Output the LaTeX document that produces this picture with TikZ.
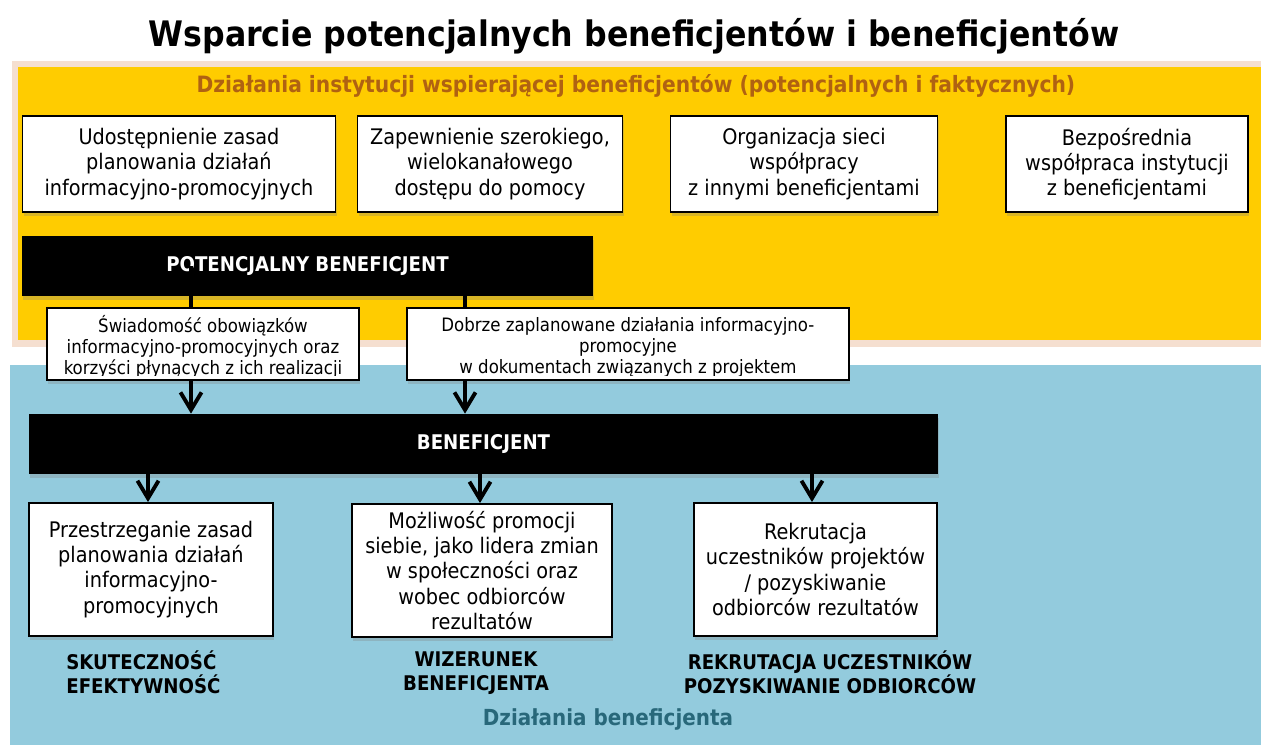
\documentclass[tikz,border=0pt]{standalone}
\usepackage{fontspec}
\IfFontExistsTF{DejaVu Sans Condensed Bold}
  {\setmainfont{DejaVu Sans Condensed}[BoldFont={DejaVu Sans Condensed Bold}]}
  {\setmainfont{DejaVu Sans}[FakeStretch=0.9]}
\usetikzlibrary{arrows.meta,shadows,positioning}
\definecolor{gold}{RGB}{255,204,0}
\definecolor{peach}{RGB}{232,184,150}
\definecolor{sky}{RGB}{147,203,221}
\definecolor{rust}{RGB}{176,98,18}
\definecolor{deepteal}{RGB}{40,104,122}
\newcommand{\pxl}[1]{#1*0.02cm}
\begin{document}
\begin{tikzpicture}
  [x=0.02cm,y=-0.02cm,every node/.style={inner sep=0pt,align=center}]
  \tikzstyle{shade} = [drop shadow={shadow xshift=0.6pt,shadow yshift=-2.4pt,opacity=0.3}]
  \tikzstyle{box} = [draw=black,line width=1.1pt,fill=white,shade,font=\fontsize{12.2}{14.3}\selectfont]
  \tikzstyle{bar} = [fill=black,text=white,shade,minimum height=\pxl{60},font=\fontsize{11.5}{14}\selectfont\bfseries]
  \tikzstyle{stxt} = [font=\fontsize{10.5}{12}\selectfont]
  \tikzstyle{tag} = [font=\fontsize{11.5}{13.6}\selectfont\bfseries]
  \tikzstyle{link} = [line width=2.2pt]
  \tikzstyle{arr} = [line width=2.2pt,-{Straight Barb[length=10pt,width=12pt]}]
  \useasboundingbox (0,0) rectangle (1261,745);
  % panels
  \fill[peach,opacity=.45] (12,61) rectangle (1261,347);
  \fill[gold] (18,67) rectangle (1261,340);
  \fill[sky] (10,365) rectangle (1261,745);
  \node (title) at (634,36) {\fontsize{20}{24}\selectfont\bfseries Wsparcie potencjalnych beneficjentów i beneficjentów};
  \node[text=rust] (hdr) at (636,86) {\fontsize{12.8}{15}\selectfont\bfseries Działania instytucji wspierającej beneficjentów (potencjalnych i faktycznych)};
  % institution actions
  \node[box,minimum width=\pxl{313},minimum height=\pxl{96}] (a1) at (179,164) {Udostępnienie zasad\\planowania działań\\informacyjno-promocyjnych};
  \node[box,minimum width=\pxl{265},minimum height=\pxl{96}] (a2) at (490,164) {Zapewnienie szerokiego,\\wielokanałowego\\dostępu do pomocy};
  \node[box,minimum width=\pxl{267},minimum height=\pxl{96}] (a3) at (804,164) {Organizacja sieci\\współpracy\\z innymi beneficjentami};
  \node[box,minimum width=\pxl{242},minimum height=\pxl{96}] (a4) at (1127,164) {Bezpośrednia\\współpraca instytucji\\z beneficjentami};
  % potential beneficiary
  \node[bar,minimum width=\pxl{571}] (pb) at (307.5,266) {POTENCJALNY BENEFICJENT};
  \node[box,minimum width=\pxl{312},minimum height=\pxl{72}] (sw) at (203,344) {};
  \node[box,minimum width=\pxl{442},minimum height=\pxl{72}] (db) at (628,344) {};
  \begin{scope}
    \clip (sw.north west) rectangle ([yshift=3pt]sw.south east);
    \node[stxt] (swt) at ([yshift=-1.8pt]sw.center) {Świadomość obowiązków\\informacyjno-promocyjnych oraz\\korzyści płynących z ich realizacji};
  \end{scope}
  \begin{scope}
    \clip (db.north west) rectangle ([yshift=3pt]db.south east);
    \node[stxt] (dbt) at ([yshift=-1.8pt]db.center) {Dobrze zaplanowane działania informacyjno-\\promocyjne\\w dokumentach związanych z projektem};
  \end{scope}
  % beneficiary
  \node[bar,minimum width=\pxl{909}] (ben) at (483.5,444) {BENEFICJENT};
  \node[box,minimum width=\pxl{244},minimum height=\pxl{133}] (b1) at (151,569.5) {Przestrzeganie zasad\\planowania działań\\informacyjno-\\promocyjnych};
  \node[box,minimum width=\pxl{260},minimum height=\pxl{133}] (b2) at (482,570.5) {Możliwość promocji\\siebie, jako lidera zmian\\w społeczności oraz\\wobec odbiorców\\rezultatów};
  \node[box,minimum width=\pxl{243},minimum height=\pxl{133}] (b3) at (815.5,569.5) {Rekrutacja\\uczestników projektów\\/ pozyskiwanie\\odbiorców rezultatów};
  \node[tag,anchor=west,align=left] (t1) at (66,672) {SKUTECZNOŚĆ\\EFEKTYWNOŚĆ};
  \node[tag] (t2) at (476,673) {WIZERUNEK\\BENEFICJENTA};
  \node[tag] (t3) at (830,672) {REKRUTACJA UCZESTNIKÓW\\POZYSKIWANIE ODBIORCÓW};
  \node[text=deepteal] (ftr) at (608,719) {\fontsize{12.6}{15}\selectfont\bfseries Działania beneficjenta};
  % connectors
  \coordinate (c1) at (191,0);
  \coordinate (c2) at (465,0);
  \draw[link] (pb.center -| c1) -- (sw.north -| c1);
  \draw[link] (pb.south -| c2) -- (db.north -| c2);
  \draw[arr] (sw.south -| c1) -- (ben.north -| c1);
  \draw[arr] (db.south -| c2) -- (ben.north -| c2);
  \coordinate (c3) at (148,0);
  \coordinate (c4) at (480,0);
  \coordinate (c5) at (812,0);
  \foreach \source/\dest in {c3/b1,c4/b2,c5/b3}
    \draw[arr] (ben.south -| \source) -- (\dest.north -| \source);
\end{tikzpicture}
\end{document}
